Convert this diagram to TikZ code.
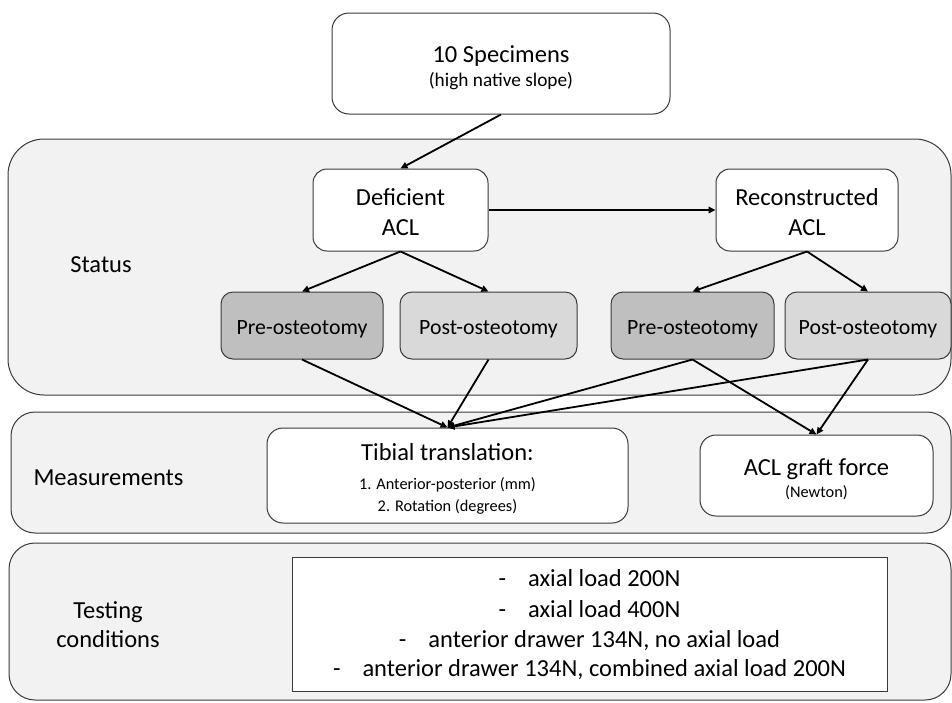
\documentclass[tikz,border=0pt]{standalone}
\usepackage{fontspec}
\setmainfont{Carlito}
\usetikzlibrary{arrows.meta}
\definecolor{bordc}{HTML}{3A3A3A}
\definecolor{panelc}{HTML}{F2F2F2}
\definecolor{darkc}{HTML}{BFBFBF}
\definecolor{lightc}{HTML}{D9D9D9}
\newcommand{\fbig}{\fontsize{24.5}{29}\selectfont}
\newcommand{\fmid}{\fontsize{21.8}{26}\selectfont}
\newcommand{\fsub}{\fontsize{19.3}{23}\selectfont}
\newcommand{\fsm}{\fontsize{16.3}{20}\selectfont}
\begin{document}
\begin{tikzpicture}[x=1pt,y=-1pt,
  panel/.style={draw=bordc, fill=panelc, line width=1pt, inner sep=0pt},
  box/.style={draw=bordc, fill=white, line width=1pt, inner sep=0pt, rounded corners=14pt},
  txt/.style={anchor=base, inner sep=0pt},
  arr/.style={-{Triangle[length=7pt,width=6.5pt]}, line width=1.8pt, black}]
\useasboundingbox (0,0) rectangle (952,702);
% panels
\node[panel, rounded corners=36pt, minimum width=943pt, minimum height=256pt] (statuspanel) at (479.5,267) {};
\node[panel, rounded corners=24pt, minimum width=940pt, minimum height=121pt] (measpanel) at (481,472.5) {};
\node[panel, rounded corners=26pt, minimum width=942pt, minimum height=157pt] (testpanel) at (480,621.5) {};
% panel labels
\node[txt, font=\fbig] (statuslbl) at (101,272) {Status};
\node[txt, font=\fbig] (measlbl) at (108.5,485) {Measurements};
\node[txt, font=\fbig] (testlblA) at (108,618) {Testing};
\node[txt, font=\fbig] (testlblB) at (108,647) {conditions};
% boxes
\node[box, rounded corners=17pt, minimum width=338pt, minimum height=101pt] (spec) at (501,63.5) {};
\node[txt, font=\fbig] (specA) at (501,62) {10 Specimens};
\node[txt, font=\fsub] (specB) at (501,86) {(high native slope)};
\node[box, minimum width=175pt, minimum height=82pt] (def) at (400.5,210) {};
\node[txt, font=\fbig] (defA) at (400.5,205) {Deficient};
\node[txt, font=\fbig] (defB) at (400.5,235) {ACL};
\node[box, minimum width=182pt, minimum height=82pt] (rec) at (807,210) {};
\node[txt, font=\fbig] (recA) at (807,205) {Reconstructed};
\node[txt, font=\fbig] (recB) at (807,235) {ACL};
\node[box, fill=darkc, rounded corners=12pt, minimum width=162pt, minimum height=67pt] (preA) at (302,325.5) {};
\node[txt, font=\fmid] (preAt) at (302,334) {Pre-osteotomy};
\node[box, fill=lightc, rounded corners=12pt, minimum width=177pt, minimum height=67pt] (postA) at (488.5,325.5) {};
\node[txt, font=\fmid] (postAt) at (488.5,334) {Post-osteotomy};
\node[box, fill=darkc, rounded corners=12pt, minimum width=163pt, minimum height=67pt] (preB) at (692.5,325.5) {};
\node[txt, font=\fmid] (preBt) at (692.5,334) {Pre-osteotomy};
\node[box, fill=lightc, rounded corners=12pt, minimum width=166pt, minimum height=67pt] (postB) at (868,325.5) {};
\node[txt, font=\fmid] (postBt) at (868,334) {Post-osteotomy};
\node[box, rounded corners=16pt, minimum width=361pt, minimum height=95pt] (tib) at (447.5,475.5) {};
\node[txt, font=\fbig] (tibA) at (447.5,460) {Tibial translation:};
\node[txt, font=\fsm] (tibB) at (447.5,489.5) {1. Anterior-posterior (mm)};
\node[txt, font=\fsm] (tibC) at (447.5,511.5) {2. Rotation (degrees)};
\node[box, rounded corners=16pt, minimum width=233pt, minimum height=81pt] (acl) at (816.5,475.5) {};
\node[txt, font=\fbig] (aclA) at (816.5,475) {ACL graft force};
\node[txt, font=\fsm] (aclB) at (816.5,497.5) {(Newton)};
\node[box, rounded corners=0pt, minimum width=595pt, minimum height=134pt] (cond) at (589.5,624) {};
\node[txt, font=\fbig] (condA) at (589.5,586) {-\hspace{22pt}axial load 200N};
\node[txt, font=\fbig] (condB) at (589.5,617) {-\hspace{22pt}axial load 400N};
\node[txt, font=\fbig] (condC) at (589.5,647) {-\hspace{22pt}anterior drawer 134N, no axial load};
\node[txt, font=\fbig] (condD) at (589.5,676) {-\hspace{22pt}anterior drawer 134N, combined axial load 200N};
% arrows
\draw[arr] (spec.south) -- (def.north);
\draw[arr] (def.east) -- (rec.west);
\draw[arr] (def.south) -- (preA.north);
\draw[arr] (def.south) -- (postA.north);
\draw[arr] (rec.south) -- (preB.north);
\draw[arr] (rec.south) -- (postB.north);
\draw[arr] (preA.south) -- (tib.north);
\draw[arr] (postA.south) -- (tib.north);
\draw[arr] (preB.south) -- (tib.north);
\draw[arr] (postB.south) -- (tib.north);
\draw[arr] (preB.south) -- (acl.north);
\draw[arr] (postB.south) -- (acl.north);
\end{tikzpicture}
\end{document}
